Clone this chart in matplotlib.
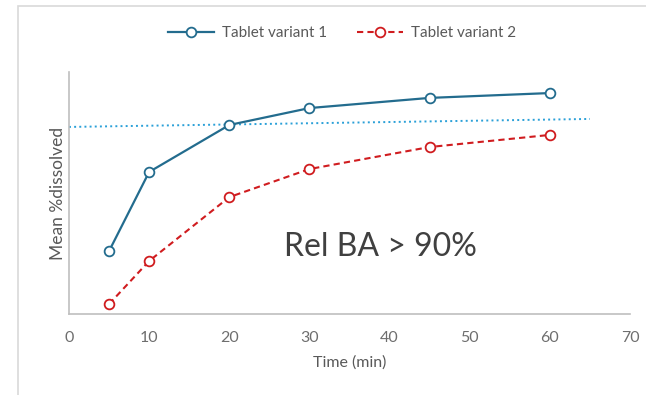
import matplotlib.pyplot as plt
from matplotlib.patches import Rectangle

plt.rcParams['font.family'] = ['Lato', 'DejaVu Sans']

# dissolution profiles (mean % dissolved vs time)
time_min = [5, 10, 20, 30, 45, 60]
variant1 = [26.0, 58.7, 78.1, 85.1, 89.3, 91.3]
variant2 = [4.1, 21.9, 48.3, 59.9, 69.0, 74.0]

# reference level line
ref_x = [0, 65]
ref_y = [77.3, 80.6]

xticks = [0, 10, 20, 30, 40, 50, 60, 70]

grey = '#595959'
fig = plt.figure(figsize=(6.46, 3.95), dpi=100)
# light frame around the chart area
fig.patches.append(Rectangle((18 / 646, -0.1), 1.0, 1 - 6 / 395 + 0.1,
                             transform=fig.transFigure, fill=False,
                             edgecolor='#D9D9D9', linewidth=1.2))

ax = fig.add_axes([69 / 646, 1 - 314 / 395, 561 / 646, 242 / 395])

ax.plot(time_min, variant1, color='#236C8E', linewidth=1.6, marker='o',
        markersize=7, markerfacecolor='white', markeredgewidth=1.3,
        label='Tablet variant 1', zorder=3)
ax.plot(time_min, variant2, color='#D01C1F', linewidth=1.5, linestyle='--',
        dashes=(3, 2), marker='o', markersize=7, markerfacecolor='white',
        markeredgewidth=1.3, label='Tablet variant 2', zorder=3)
ax.plot(ref_x, ref_y, color='#2AA0D8', linewidth=1.4, linestyle=':', zorder=2)

ax.text(38.8, 27.7, 'Rel BA > 90%', fontsize=23, color='#404040',
        ha='center', va='center')

ax.set_xlim(0, 70)
ax.set_ylim(0, 100)
ax.set_xticks(xticks)
ax.set_yticks([])
ax.tick_params(axis='x', length=0, pad=12, labelsize=11.5, labelcolor='#6E6E6E')
for side in ['top', 'right']:
    ax.spines[side].set_visible(False)
for side in ['left', 'bottom']:
    ax.spines[side].set_color('#BFBFBF')
    ax.spines[side].set_linewidth(1.2)

ax.set_xlabel('Time (min)', fontsize=11.5, color=grey, labelpad=8)
ax.set_ylabel('Mean %dissolved', fontsize=12.5, color=grey, labelpad=2)

fig.legend(loc='center', bbox_to_anchor=(342 / 646, 1 - 33 / 395), ncol=2,
           frameon=False, fontsize=11, labelcolor=grey, handlelength=3,
           handletextpad=0.5, columnspacing=2.0)

fig.savefig('out.png', dpi=100)
